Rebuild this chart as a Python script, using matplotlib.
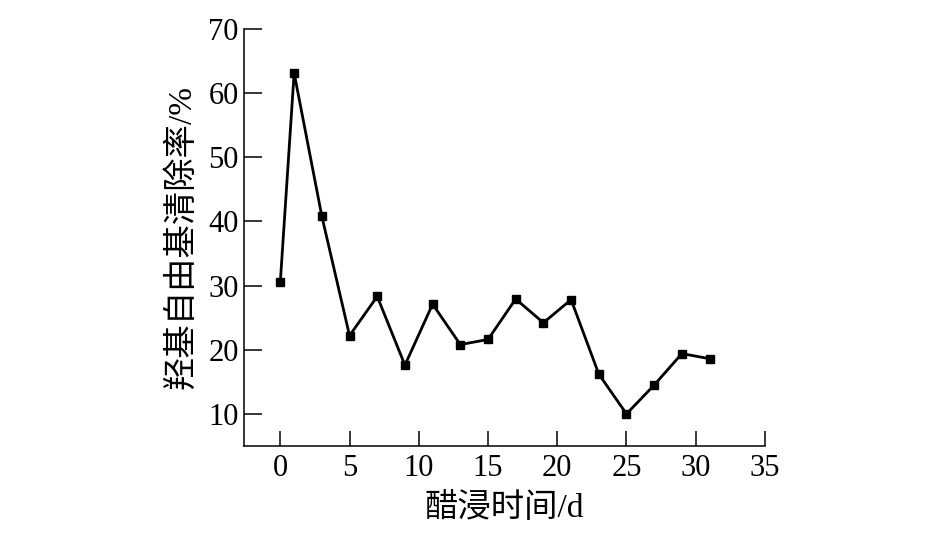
import numpy as np
import matplotlib
matplotlib.use("Agg")
import matplotlib.pyplot as plt

plt.rcParams['font.family'] = ['Liberation Serif', 'Noto Sans CJK SC']

# soaking time (d) and hydroxyl radical scavenging rate (%)
days = [0, 1, 3, 5, 7, 9, 11, 13, 15, 17, 19, 21, 23, 25, 27, 29, 31]
rate = [30.5, 63.1, 40.8, 22.2, 28.3, 17.6, 27.1, 20.8, 21.6, 27.9, 24.2, 27.8, 16.2, 10.0, 14.5, 19.4, 18.6]
xticks = [0, 5, 10, 15, 20, 25, 30, 35]
yticks = [10, 20, 30, 40, 50, 60, 70]

fig = plt.figure(figsize=(9.45, 5.44), dpi=100)
ax = fig.add_axes([0.2585, 0.1801, 0.8095 - 0.2585, 0.9472 - 0.1801])

ax.plot(days, rate, color='black', linewidth=2, marker='s', markersize=6,
        markerfacecolor='black', markeredgecolor='black')

ax.set_xlim(-2.6, 35)
ax.set_ylim(5, 70)
ax.set_xticks(xticks)
ax.set_yticks(yticks)

ax.spines['top'].set_visible(False)
ax.spines['right'].set_visible(False)
for s in ('left', 'bottom'):
    ax.spines[s].set_linewidth(1.1)

ax.tick_params(axis='x', direction='in', length=11, width=1.1, labelsize=22, pad=6)
ax.tick_params(axis='y', direction='in', length=13, width=1.1, labelsize=22, pad=4)

ax.set_xlabel('醋浸时间/d', fontsize=24, labelpad=7)
ax.set_ylabel('羟基自由基清除率/%', fontsize=24, labelpad=8)

fig.savefig('out.png', dpi=100)
